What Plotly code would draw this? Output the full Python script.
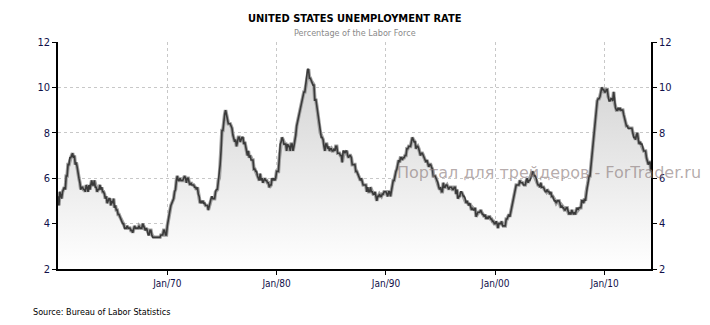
import pandas as pd
import plotly.graph_objects as go

# Monthly US unemployment rate (%), Jan 1960 .. Apr 2014
rate_1960s = [
    5.2, 4.8, 5.4, 5.2, 5.1, 5.4, 5.5, 5.6, 5.5, 6.1, 6.1, 6.6,
    6.6, 6.9, 6.9, 7.0, 7.1, 6.9, 7.0, 6.6, 6.7, 6.5, 6.1, 6.0,
    5.8, 5.5, 5.6, 5.6, 5.5, 5.5, 5.4, 5.7, 5.6, 5.4, 5.7, 5.5,
    5.7, 5.9, 5.7, 5.7, 5.9, 5.6, 5.6, 5.4, 5.5, 5.5, 5.7, 5.5,
    5.6, 5.4, 5.4, 5.3, 5.1, 5.2, 4.9, 5.0, 5.1, 5.1, 4.8, 5.0,
    4.9, 5.1, 4.7, 4.8, 4.6, 4.6, 4.4, 4.4, 4.3, 4.2, 4.1, 4.0,
    4.0, 3.8, 3.8, 3.8, 3.9, 3.8, 3.8, 3.8, 3.7, 3.7, 3.6, 3.8,
    3.9, 3.8, 3.8, 3.8, 3.8, 3.9, 3.8, 3.8, 3.8, 4.0, 3.9, 3.8,
    3.7, 3.8, 3.7, 3.5, 3.5, 3.7, 3.7, 3.5, 3.4, 3.4, 3.4, 3.4,
    3.4, 3.4, 3.4, 3.4, 3.4, 3.5, 3.5, 3.5, 3.7, 3.7, 3.5, 3.5,
]
rate_1970s = [
    3.9, 4.2, 4.4, 4.6, 4.8, 4.9, 5.0, 5.1, 5.4, 5.5, 5.9, 6.1,
    5.9, 5.9, 6.0, 5.9, 5.9, 5.9, 6.0, 6.1, 6.0, 5.8, 6.0, 6.0,
    5.8, 5.7, 5.8, 5.7, 5.7, 5.7, 5.6, 5.6, 5.5, 5.6, 5.3, 5.2,
    4.9, 5.0, 4.9, 5.0, 4.9, 4.9, 4.8, 4.8, 4.8, 4.6, 4.8, 4.9,
    5.1, 5.2, 5.1, 5.1, 5.1, 5.4, 5.5, 5.5, 5.9, 6.0, 6.6, 7.2,
    8.1, 8.1, 8.6, 8.8, 9.0, 8.8, 8.6, 8.4, 8.4, 8.4, 8.3, 8.2,
    7.9, 7.7, 7.6, 7.7, 7.4, 7.6, 7.8, 7.8, 7.6, 7.7, 7.8, 7.8,
    7.5, 7.6, 7.4, 7.2, 7.0, 7.2, 6.9, 7.0, 6.8, 6.8, 6.8, 6.4,
    6.4, 6.3, 6.3, 6.1, 6.0, 5.9, 6.2, 5.9, 6.0, 5.8, 5.9, 6.0,
    5.9, 5.9, 5.8, 5.8, 5.6, 5.7, 5.7, 6.0, 5.9, 6.0, 5.9, 6.0,
]
rate_1980s = [
    6.3, 6.3, 6.3, 6.9, 7.5, 7.6, 7.8, 7.7, 7.5, 7.5, 7.5, 7.2,
    7.5, 7.4, 7.4, 7.2, 7.5, 7.5, 7.2, 7.4, 7.6, 7.9, 8.3, 8.5,
    8.6, 8.9, 9.0, 9.3, 9.4, 9.6, 9.8, 9.8, 10.1, 10.4, 10.8, 10.8,
    10.4, 10.4, 10.3, 10.2, 10.1, 10.1, 9.4, 9.5, 9.2, 8.8, 8.5, 8.3,
    8.0, 7.8, 7.8, 7.7, 7.4, 7.2, 7.5, 7.5, 7.3, 7.4, 7.2, 7.3,
    7.3, 7.2, 7.2, 7.3, 7.2, 7.4, 7.4, 7.1, 7.1, 7.1, 7.0, 7.0,
    6.7, 7.2, 7.2, 7.1, 7.2, 7.2, 7.0, 6.9, 7.0, 7.0, 6.9, 6.6,
    6.6, 6.6, 6.6, 6.3, 6.3, 6.2, 6.1, 6.0, 5.9, 6.0, 5.8, 5.7,
    5.7, 5.7, 5.7, 5.4, 5.6, 5.4, 5.4, 5.6, 5.4, 5.4, 5.3, 5.3,
    5.4, 5.2, 5.0, 5.2, 5.2, 5.3, 5.2, 5.2, 5.3, 5.3, 5.4, 5.4,
]
rate_1990s = [
    5.4, 5.3, 5.2, 5.4, 5.4, 5.2, 5.5, 5.7, 5.9, 5.9, 6.2, 6.3,
    6.4, 6.6, 6.8, 6.7, 6.9, 6.9, 6.8, 6.9, 6.9, 7.0, 7.0, 7.3,
    7.3, 7.4, 7.4, 7.4, 7.6, 7.8, 7.7, 7.6, 7.6, 7.3, 7.4, 7.4,
    7.3, 7.1, 7.0, 7.1, 7.1, 7.0, 6.9, 6.8, 6.7, 6.8, 6.6, 6.5,
    6.6, 6.6, 6.5, 6.4, 6.1, 6.1, 6.1, 6.0, 5.9, 5.8, 5.6, 5.5,
    5.6, 5.4, 5.4, 5.8, 5.6, 5.6, 5.7, 5.7, 5.6, 5.5, 5.6, 5.6,
    5.6, 5.5, 5.5, 5.6, 5.6, 5.3, 5.5, 5.1, 5.2, 5.2, 5.4, 5.4,
    5.3, 5.2, 5.2, 5.1, 4.9, 5.0, 4.9, 4.8, 4.9, 4.7, 4.6, 4.7,
    4.6, 4.6, 4.7, 4.3, 4.4, 4.5, 4.5, 4.5, 4.6, 4.5, 4.4, 4.4,
    4.3, 4.4, 4.2, 4.3, 4.2, 4.3, 4.3, 4.2, 4.2, 4.1, 4.1, 4.0,
]
rate_2000s = [
    4.0, 4.1, 4.0, 3.8, 4.0, 4.0, 4.0, 4.1, 3.9, 3.9, 3.9, 3.9,
    4.2, 4.2, 4.3, 4.4, 4.3, 4.5, 4.6, 4.9, 5.0, 5.3, 5.5, 5.7,
    5.7, 5.7, 5.7, 5.9, 5.8, 5.8, 5.8, 5.7, 5.7, 5.7, 5.9, 6.0,
    5.8, 5.9, 5.9, 6.0, 6.1, 6.3, 6.2, 6.1, 6.1, 6.0, 5.8, 5.7,
    5.7, 5.6, 5.8, 5.6, 5.6, 5.6, 5.5, 5.4, 5.4, 5.5, 5.4, 5.4,
    5.3, 5.4, 5.2, 5.2, 5.1, 5.0, 5.0, 4.9, 5.0, 5.0, 5.0, 4.9,
    4.7, 4.8, 4.7, 4.7, 4.6, 4.6, 4.7, 4.7, 4.5, 4.4, 4.5, 4.4,
    4.6, 4.5, 4.4, 4.5, 4.4, 4.6, 4.7, 4.6, 4.7, 4.7, 4.7, 5.0,
    5.0, 4.9, 5.1, 5.0, 5.4, 5.6, 5.8, 6.1, 6.1, 6.5, 6.8, 7.3,
    7.8, 8.3, 8.7, 9.0, 9.4, 9.5, 9.5, 9.6, 9.8, 10.0, 9.9, 9.9,
]
rate_2010s = [
    9.8, 9.8, 9.9, 9.9, 9.6, 9.4, 9.4, 9.5, 9.5, 9.4, 9.8, 9.3,
    9.1, 9.0, 9.0, 9.1, 9.0, 9.1, 9.0, 9.0, 9.0, 8.8, 8.6, 8.5,
    8.3, 8.3, 8.2, 8.2, 8.2, 8.2, 8.2, 8.0, 7.8, 7.8, 7.7, 7.9,
    8.0, 7.7, 7.5, 7.6, 7.5, 7.5, 7.3, 7.2, 7.2, 7.2, 6.9, 6.7,
    6.6, 6.7, 6.7, 6.3,
]
start_month = "1960-01-01"
tick_dates = ["1970-01-01", "1980-01-01", "1990-01-01", "2000-01-01", "2010-01-01"]
tick_labels = ["Jan/70", "Jan/80", "Jan/90", "Jan/00", "Jan/10"]
y_ticks = [2, 4, 6, 8, 10, 12]

rates = rate_1960s + rate_1970s + rate_1980s + rate_1990s + rate_2000s + rate_2010s
dates = pd.date_range(start_month, periods=len(rates), freq="MS")

FONT = "Tahoma, 'DejaVu Sans Condensed', 'DejaVu Sans', sans-serif"
TICKC = "#10104a"

fig = go.Figure()
fig.add_trace(go.Scatter(
    x=dates, y=rates, mode="lines", fill="tozeroy",
    fillgradient=dict(type="vertical", start=2, stop=11,
                      colorscale=[[0, "#ffffff"], [1, "#d2d2d2"]]),
    line=dict(color="#a0a0a0", width=3.6), hoverinfo="skip", showlegend=False,
))
fig.add_trace(go.Scatter(
    x=dates, y=rates, mode="lines",
    line=dict(color="#3a3a3a", width=1.6), showlegend=False,
))
fig.add_trace(go.Scatter(
    x=dates, y=rates, mode="lines", yaxis="y2",
    line=dict(color="rgba(0,0,0,0)", width=0), hoverinfo="skip", showlegend=False,
))

grid = dict(showgrid=True, gridcolor="#c8c8c8", griddash="dot", gridwidth=1)
fig.update_layout(
    width=710, height=325,
    margin=dict(l=58, r=59, t=42, b=56),
    paper_bgcolor="white", plot_bgcolor="white",
    font=dict(family=FONT, size=10, color=TICKC),
    xaxis=dict(
        type="date", range=[dates[0], dates[-1]],
        tickvals=tick_dates, ticktext=tick_labels,
        ticks="outside", ticklen=4, tickcolor="#000",
        showline=True, linecolor="#000", linewidth=1.5,
        zeroline=False, tickfont=dict(size=10, color=TICKC), **grid,
    ),
    yaxis=dict(
        range=[2, 12], tickvals=y_ticks,
        ticks="outside", ticklen=4, tickcolor="#000",
        showline=True, linecolor="#000", linewidth=1.5,
        zeroline=False, tickfont=dict(size=11, color=TICKC), **grid,
    ),
    yaxis2=dict(
        range=[2, 12], tickvals=y_ticks, overlaying="y", side="right",
        ticks="outside", ticklen=4, tickcolor="#000",
        showline=True, linecolor="#000", linewidth=1.5,
        showgrid=False, zeroline=False, tickfont=dict(size=11, color=TICKC),
    ),
    annotations=[
        dict(text="<b>UNITED STATES UNEMPLOYMENT RATE</b>", xref="paper", yref="paper",
             x=0.5, y=1.0, yshift=24, xanchor="center", yanchor="middle", showarrow=False,
             font=dict(family=FONT, size=11, color="#000")),
        dict(text="Percentage of the Labor Force", xref="paper", yref="paper",
             x=0.5, y=1.0, yshift=9, xanchor="center", yanchor="middle", showarrow=False,
             font=dict(family=FONT, size=9, color="#8a8a8a")),
        dict(text="Source: Bureau of Labor Statistics", xref="paper", yref="paper",
             x=0, xshift=-27, y=0, yshift=-43, xanchor="left", yanchor="middle", showarrow=False,
             font=dict(family=FONT, size=9, color="#000")),
        dict(text="Портал для трейдеров - ForTrader.ru", xref="paper", yref="paper",
             x=0.568, y=0.423, xanchor="left", yanchor="middle", showarrow=False,
             font=dict(family="'DejaVu Sans', sans-serif", size=16, color="rgba(140,125,125,0.65)")),
    ],
)

fig.write_html("out.html")
